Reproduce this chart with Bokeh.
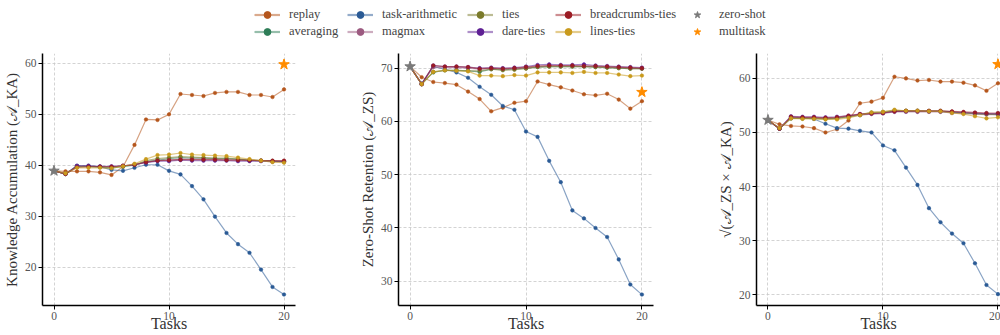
from bokeh.plotting import figure
from bokeh.layouts import column, row
from bokeh.models import Legend, LegendItem, ColumnDataSource, Range1d, FixedTicker
from bokeh.embed import file_html
from bokeh.resources import INLINE

tasks = list(range(21))

methods = ["replay", "averaging", "task-arithmetic", "magmax", "ties",
           "dare-ties", "breadcrumbs-ties", "lines-ties"]
colors = {
    "replay": "#b5561c",
    "averaging": "#2e7d57",
    "task-arithmetic": "#2a5a95",
    "magmax": "#9c5a80",
    "ties": "#7a7a2a",
    "dare-ties": "#5e1f94",
    "breadcrumbs-ties": "#9b1c24",
    "lines-ties": "#c99a1c",
}
zero_shot_color = "#7a7a7a"
multitask_color = "#ff8c00"

# Knowledge accumulation (A_KA)
ka = {
    "replay": [38.9, 38.8, 38.8, 38.8, 38.6, 38.1, 39.7, 44.0, 49.0, 48.9, 50.0,
               54.0, 53.8, 53.6, 54.2, 54.4, 54.4, 53.8, 53.8, 53.4, 54.9],
    "averaging": [38.9, 38.3, 39.7, 39.7, 39.6, 39.5, 39.7, 40.0, 40.7, 41.0, 41.3,
                  41.5, 41.4, 41.4, 41.3, 41.3, 41.2, 41.0, 40.9, 40.8, 40.7],
    "task-arithmetic": [38.9, 38.3, 39.9, 39.9, 39.7, 39.1, 38.9, 39.5, 40.1, 40.1, 38.9,
                        38.2, 35.9, 33.3, 29.9, 26.7, 24.5, 22.8, 19.5, 16.1, 14.6],
    "magmax": [38.9, 38.3, 39.8, 39.8, 39.7, 39.7, 39.9, 40.1, 40.6, 40.9, 41.0,
               41.2, 41.2, 41.2, 41.2, 41.1, 41.0, 40.9, 40.9, 40.8, 40.8],
    "ties": [38.9, 38.3, 39.8, 39.8, 39.7, 39.6, 39.8, 40.1, 40.9, 41.3, 41.5,
             41.7, 41.6, 41.5, 41.4, 41.4, 41.2, 41.0, 40.9, 40.8, 40.7],
    "dare-ties": [38.9, 38.3, 39.9, 39.9, 39.8, 39.8, 39.9, 40.1, 40.5, 40.8, 40.8,
                  41.0, 40.9, 40.9, 40.9, 40.9, 40.8, 40.8, 40.8, 40.7, 40.7],
    "breadcrumbs-ties": [38.9, 38.3, 39.6, 39.7, 39.7, 39.7, 39.9, 40.1, 40.6, 40.9, 41.0,
                         41.1, 41.1, 41.1, 41.1, 41.0, 41.0, 41.0, 40.9, 40.9, 40.9],
    "lines-ties": [38.9, 38.4, 39.5, 39.5, 39.5, 39.4, 39.8, 40.3, 41.2, 42.0, 42.1,
                   42.4, 42.1, 42.0, 41.9, 41.8, 41.5, 41.2, 40.9, 40.6, 40.5],
}

# Zero-shot retention (A_ZS)
zs = {
    "replay": [70.3, 68.3, 67.4, 67.2, 66.9, 65.6, 64.2, 61.9, 62.6, 63.5, 63.8,
               67.5, 66.9, 66.4, 65.8, 65.1, 64.9, 65.2, 64.1, 62.4, 63.8],
    "averaging": [70.3, 67.0, 69.2, 69.6, 69.6, 69.5, 69.3, 69.8, 69.7, 69.8, 70.0,
                  70.2, 70.3, 70.3, 70.3, 70.3, 70.2, 70.1, 70.0, 69.9, 69.9],
    "task-arithmetic": [70.3, 67.1, 70.3, 69.8, 69.2, 68.2, 66.5, 65.0, 62.9, 62.2, 58.1,
                        57.1, 52.6, 48.6, 43.3, 41.8, 40.0, 38.3, 34.1, 29.4, 27.5],
    "magmax": [70.3, 67.0, 70.2, 70.1, 70.1, 70.0, 69.8, 69.9, 69.8, 69.9, 70.0,
               70.3, 70.4, 70.4, 70.4, 70.4, 70.3, 70.2, 70.1, 70.0, 69.9],
    "ties": [70.3, 67.0, 69.3, 69.6, 69.6, 69.5, 69.5, 69.8, 69.6, 69.7, 69.9,
             70.2, 70.3, 70.3, 70.3, 70.3, 70.2, 70.1, 70.0, 69.9, 69.9],
    "dare-ties": [70.3, 67.0, 70.5, 70.3, 70.3, 70.2, 70.0, 70.1, 70.0, 70.1, 70.3,
                  70.6, 70.7, 70.6, 70.6, 70.7, 70.5, 70.4, 70.3, 70.2, 70.1],
    "breadcrumbs-ties": [70.3, 67.0, 70.5, 70.3, 70.3, 70.2, 69.9, 70.0, 69.9, 70.0, 70.2,
                         70.4, 70.5, 70.5, 70.5, 70.4, 70.4, 70.3, 70.2, 70.1, 70.0],
    "lines-ties": [70.3, 67.0, 69.3, 69.6, 69.5, 69.4, 68.6, 68.6, 68.5, 68.7, 68.6,
                   69.2, 69.2, 69.2, 69.1, 69.3, 69.1, 69.1, 68.8, 68.5, 68.6],
}

# sqrt(A_ZS x A_KA)
hm = {
    "replay": [52.3, 51.5, 51.2, 51.1, 50.8, 50.0, 50.6, 52.2, 55.4, 55.7, 56.4,
               60.3, 60.0, 59.6, 59.7, 59.4, 59.4, 59.2, 58.7, 57.7, 59.1],
    "averaging": [52.3, 50.7, 52.6, 52.6, 52.6, 52.5, 52.6, 52.9, 53.2, 53.6, 53.7,
                  54.0, 54.0, 54.0, 53.9, 53.9, 53.7, 53.6, 53.5, 53.4, 53.3],
    "task-arithmetic": [52.3, 50.7, 52.8, 52.7, 52.5, 51.6, 50.8, 50.7, 50.3, 50.0, 47.6,
                        46.7, 43.5, 40.3, 36.0, 33.4, 31.3, 29.5, 25.8, 21.8, 20.1],
    "magmax": [52.3, 50.7, 52.8, 52.7, 52.7, 52.6, 52.7, 53.0, 53.2, 53.4, 53.5,
               53.8, 53.8, 53.8, 53.8, 53.8, 53.6, 53.5, 53.4, 53.3, 53.3],
    "ties": [52.3, 50.7, 52.6, 52.6, 52.6, 52.5, 52.6, 52.9, 53.3, 53.7, 53.8,
             54.1, 54.0, 54.0, 54.0, 54.0, 53.8, 53.6, 53.5, 53.4, 53.4],
    "dare-ties": [52.3, 50.7, 53.0, 52.9, 52.9, 52.8, 52.9, 53.1, 53.4, 53.5, 53.6,
                  53.9, 53.9, 53.9, 53.9, 53.9, 53.8, 53.7, 53.6, 53.5, 53.5],
    "breadcrumbs-ties": [52.3, 50.7, 52.9, 52.8, 52.8, 52.7, 52.8, 53.1, 53.4, 53.5, 53.6,
                         53.9, 54.0, 54.0, 54.0, 54.0, 53.9, 53.8, 53.7, 53.6, 53.6],
    "lines-ties": [52.3, 50.8, 52.6, 52.5, 52.5, 52.4, 52.4, 52.7, 53.2, 53.7, 53.8,
                   54.2, 54.0, 54.0, 53.9, 53.9, 53.6, 53.4, 53.0, 52.6, 52.8],
}

zero_shot = {"ka": 38.9, "zs": 70.3, "hm": 52.3}
multitask = {"ka": 59.8, "zs": 65.5, "hm": 62.6}

x_ticks = [0, 10, 20]
y_ticks = {"ka": [20, 30, 40, 50, 60], "zs": [30, 40, 50, 60, 70], "hm": [20, 30, 40, 50, 60]}
y_labels = {
    "ka": "Knowledge Accumulation (\U0001D49C_KA)",
    "zs": "Zero-Shot Retention (\U0001D49C_ZS)",
    "hm": "\u221A(\U0001D49C_ZS \u00D7 \U0001D49C_KA)",
}
all_data = {"ka": ka, "zs": zs, "hm": hm}

FONT = "Liberation Serif"


def make_panel(key, width, left, right, x_end, yr):
    p = figure(width=width, height=285, x_range=Range1d(-1, x_end),
               y_range=Range1d(*yr), output_backend="svg", toolbar_location=None,
               min_border_left=left, min_border_right=right, min_border_top=3,
               min_border_bottom=30)
    p.outline_line_color = None
    p.background_fill_color = "white"
    p.border_fill_color = "white"
    p.xaxis.ticker = FixedTicker(ticks=x_ticks)
    p.yaxis.ticker = FixedTicker(ticks=y_ticks[key])
    for ax in (p.xaxis, p.yaxis):
        ax.axis_line_color = "black"
        ax.axis_line_width = 1.5
        ax.major_tick_in = 0
        ax.major_tick_out = 4
        ax.minor_tick_in = 0
        ax.minor_tick_out = 0
        ax.major_tick_line_color = "black"
        ax.major_label_text_font = FONT
        ax.major_label_text_font_size = "11.5px"
        ax.major_label_text_color = "#555555"
        ax.axis_label_text_font = FONT
        ax.axis_label_text_font_style = "normal"
        ax.axis_label_text_color = "#333333"
        ax.major_label_standoff = 2
    p.xaxis.axis_label = "Tasks"
    p.xaxis.axis_label_text_font_size = "16px"
    p.xaxis.axis_label_standoff = -8
    p.yaxis.axis_label = y_labels[key]
    p.yaxis.axis_label_text_font_size = "15px"
    p.yaxis.axis_label_standoff = 2
    for g in (p.xgrid, p.ygrid):
        g.grid_line_color = "#c8c8c8"
        g.grid_line_dash = "3 2"
        g.grid_line_width = 0.8
    data = all_data[key]
    for m in methods:
        src = ColumnDataSource(dict(x=tasks, y=data[m]))
        p.line("x", "y", source=src, line_color=colors[m], line_width=1.2, line_alpha=0.55)
        p.scatter("x", "y", source=src, marker="circle", size=3.6, fill_color=colors[m],
                  line_color=colors[m], line_width=0.5)
    p.scatter(x=[tasks[0]], y=[zero_shot[key]], marker="star", size=11,
              fill_color=zero_shot_color, line_color=zero_shot_color)
    p.scatter(x=[tasks[-1]], y=[multitask[key]], marker="star", size=11,
              fill_color=multitask_color, line_color=multitask_color)
    return p


p1 = make_panel("ka", 345, 42, 50, 21, (12.45, 61.95))
p2 = make_panel("zs", 355, 53, 47, 21, (25.45, 72.75))
p3 = make_panel("hm", 300, 56, 0, 20.22, (18.0, 64.6))

# Legend figure
lf = figure(width=1000, height=50, x_range=Range1d(0, 1), y_range=Range1d(0, 1),
            output_backend="svg", toolbar_location=None, x_axis_type=None,
            y_axis_type=None, min_border=0)
lf.outline_line_color = None
lf.xgrid.visible = False
lf.ygrid.visible = False

# legend proxies live outside the visible range
proxy_x = [-5.0]
proxy_y = [-5.0]
items = {}
for m in methods:
    src = ColumnDataSource(dict(x=proxy_x, y=proxy_y))
    r1 = lf.line("x", "y", source=src, line_color=colors[m], line_width=2.2, line_alpha=0.5)
    r2 = lf.scatter("x", "y", source=src, marker="circle", size=7, fill_color=colors[m],
                    line_color=colors[m])
    items[m] = LegendItem(label=m, renderers=[r1, r2])
src0 = ColumnDataSource(dict(x=proxy_x, y=proxy_y))
rz = lf.scatter("x", "y", source=src0, marker="star", size=12, fill_color=zero_shot_color,
                line_color=zero_shot_color)
items["zero-shot"] = LegendItem(label="zero-shot", renderers=[rz])
rm = lf.scatter("x", "y", source=src0, marker="star", size=12, fill_color=multitask_color,
                line_color=multitask_color)
items["multitask"] = LegendItem(label="multitask", renderers=[rm])

legend_cols = [("replay", "averaging"), ("task-arithmetic", "magmax"),
               ("ties", "dare-ties"), ("breadcrumbs-ties", "lines-ties"),
               ("zero-shot", "multitask")]
legend_x = [254, 347, 467, 555, 684]
for (a, b), lx in zip(legend_cols, legend_x):
    lg = Legend(items=[items[a], items[b]], location=(lx, 10), orientation="vertical",
                padding=0, margin=0, spacing=0, glyph_width=26, glyph_height=17,
                label_height=17, label_standoff=9, border_line_color=None,
                background_fill_alpha=0, label_text_font=FONT,
                label_text_font_size="12.5px", label_text_color="#444444")
    lf.add_layout(lg, "center")

layout = column(lf, row(p1, p2, p3))
open("out.html", "w").write(file_html(layout, INLINE))
